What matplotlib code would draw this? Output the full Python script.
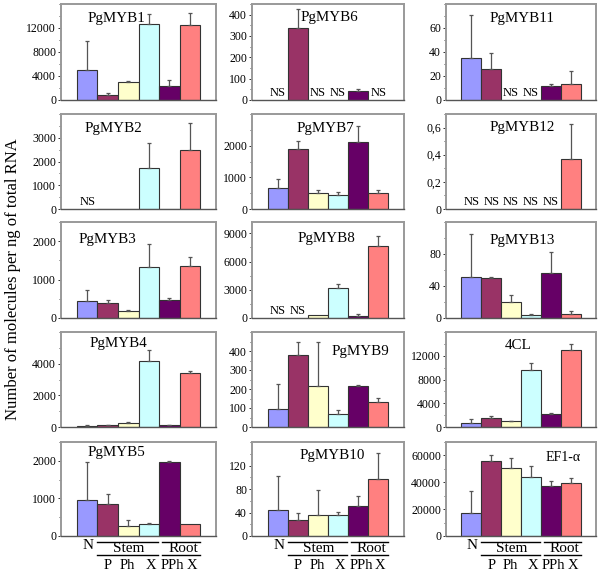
import numpy as np
import matplotlib
matplotlib.use("Agg")
import matplotlib.pyplot as plt
from matplotlib.transforms import blended_transform_factory
from matplotlib.ticker import MultipleLocator, FixedLocator, FuncFormatter

plt.rcParams['font.family'] = ['Liberation Serif', 'DejaVu Serif']

groups = ["N", "P", "Ph", "X", "PPh", "X"]
colors = ["#9999FF", "#993366", "#FFFFCC", "#CCFFFF", "#660066", "#FF8080"]

# None = NS (not significant / not detected)
titles = ["PgMYB1", "PgMYB6", "PgMYB11",
          "PgMYB2", "PgMYB7", "PgMYB12",
          "PgMYB3", "PgMYB8", "PgMYB13",
          "PgMYB4", "PgMYB9", "4CL",
          "PgMYB5", "PgMYB10", "EF1-α"]

means = {
    "PgMYB1": [5000, 850, 3050, 12650, 2350, 12550],
    "PgMYB6": [None, 337, None, None, 40, None],
    "PgMYB11": [35, 26, None, None, 12, 13],
    "PgMYB2": [None, 15, 10, 1710, 20, 2480],
    "PgMYB7": [650, 1890, 490, 455, 2120, 520],
    "PgMYB12": [None, None, None, None, None, 0.37],
    "PgMYB3": [430, 380, 185, 1330, 460, 1350],
    "PgMYB8": [None, None, 280, 3240, 250, 7690],
    "PgMYB13": [51, 50, 20, 3.4, 56, 5.5],
    "PgMYB4": [40, 100, 250, 4200, 120, 3380],
    "PgMYB9": [93, 377, 214, 69, 216, 129],
    "4CL": [680, 1530, 960, 9680, 2260, 12900],
    "PgMYB5": [965, 850, 272, 316, 1975, 316],
    "PgMYB10": [45, 28, 35, 35, 51, 97],
    "EF1-α": [17500, 55500, 50750, 44250, 37000, 39500],
}
err_tops = {
    "PgMYB1": [9900, 1250, 3250, 14300, 3330, 14450],
    "PgMYB6": [None, 427, None, None, 50, None],
    "PgMYB11": [71, 39, None, None, 13, 24],
    "PgMYB2": [None, None, None, 2800, None, 3610],
    "PgMYB7": [960, 2150, 615, 530, 2615, 595],
    "PgMYB12": [None, None, None, None, None, 0.63],
    "PgMYB3": [725, 475, 210, 1930, 530, 1590],
    "PgMYB8": [None, None, None, 3560, 390, 8750],
    "PgMYB13": [105, 51, 28.6, 4.6, 82.5, 8.4],
    "PgMYB4": [100, 110, 310, 4840, 130, 3560],
    "PgMYB9": [225, 448, 450, 88, 221, 152],
    "4CL": [1420, 1920, 1075, 10750, 2430, 13920],
    "PgMYB5": [1975, 1105, 420, 350, 2000, None],
    "PgMYB10": [102, 39, 78, 41, 68, 141],
    "EF1-α": [33750, 60000, 58250, 52000, 41250, 43250],
}
ylims = {"PgMYB1": 16000, "PgMYB6": 450, "PgMYB11": 80, "PgMYB2": 4000, "PgMYB7": 3000,
         "PgMYB12": 0.7, "PgMYB3": 2500, "PgMYB8": 10200, "PgMYB13": 120, "PgMYB4": 6000,
         "PgMYB9": 500, "4CL": 16000, "PgMYB5": 2500, "PgMYB10": 160, "EF1-α": 70000}
majors = {"PgMYB1": [0, 4000, 8000, 12000], "PgMYB6": [0, 100, 200, 300, 400],
          "PgMYB11": [0, 20, 40, 60], "PgMYB2": [0, 1000, 2000, 3000],
          "PgMYB7": [0, 1000, 2000], "PgMYB12": [0, 0.2, 0.4, 0.6],
          "PgMYB3": [0, 1000, 2000], "PgMYB8": [0, 3000, 6000, 9000],
          "PgMYB13": [0, 40, 80], "PgMYB4": [0, 2000, 4000],
          "PgMYB9": [0, 100, 200, 300, 400], "4CL": [0, 4000, 8000, 12000],
          "PgMYB5": [0, 1000, 2000], "PgMYB10": [0, 40, 80, 120],
          "EF1-α": [0, 20000, 40000, 60000]}
minors = {"PgMYB1": 2000, "PgMYB6": 50, "PgMYB11": 10, "PgMYB2": 500, "PgMYB7": 500,
          "PgMYB12": 0.1, "PgMYB3": 500, "PgMYB8": 1500, "PgMYB13": 20, "PgMYB4": 1000,
          "PgMYB9": 50, "4CL": 2000, "PgMYB5": 500, "PgMYB10": 20, "EF1-α": 10000}
title_pos = {"PgMYB1": (0.36, 0.85), "PgMYB6": (0.51, 0.86), "PgMYB11": (0.51, 0.85),
             "PgMYB2": (0.34, 0.85), "PgMYB7": (0.48, 0.85), "PgMYB12": (0.51, 0.86),
             "PgMYB3": (0.30, 0.82), "PgMYB8": (0.49, 0.83), "PgMYB13": (0.51, 0.81),
             "PgMYB4": (0.37, 0.88), "PgMYB9": (0.71, 0.79), "4CL": (0.48, 0.86),
             "PgMYB5": (0.36, 0.89), "PgMYB10": (0.53, 0.86), "EF1-α": (0.78, 0.84)}

W, H = 600, 575
fig = plt.figure(figsize=(6.0, 5.75), dpi=100)
col_lr = [(61, 216), (252, 404), (446, 596)]
row_tb = [(4, 100), (114, 209), (222, 318), (332, 427), (442, 536)]

x = np.arange(6)
for i, name in enumerate(titles):
    r, c = divmod(i, 3)
    l, rr = col_lr[c]
    t, b = row_tb[r]
    ax = fig.add_axes([l / W, 1 - b / H, (rr - l) / W, (b - t) / H])
    vals = means[name]
    errs = err_tops[name]
    for j in range(6):
        v = vals[j]
        if v is None:
            ax.text(x[j], ylims[name] * 0.015, "NS", ha="center", va="bottom",
                    fontsize=9)
            continue
        ax.bar(x[j], v, width=1.0, color=colors[j], edgecolor="#333333",
               linewidth=0.8, zorder=2)
        e = errs[j]
        if e is not None and e > v:
            ax.errorbar(x[j], v, yerr=[[0], [e - v]], fmt="none",
                        ecolor="#555555", elinewidth=0.9, capsize=1.5,
                        capthick=0.9, zorder=3)
    ax.set_xlim(-1.28, 6.28)
    ax.set_ylim(0, ylims[name])
    ax.set_xticks([])
    ax.yaxis.set_major_locator(FixedLocator(majors[name]))
    ax.yaxis.set_minor_locator(MultipleLocator(minors[name]))
    if name == "PgMYB12":
        ax.yaxis.set_major_formatter(FuncFormatter(
            lambda v, p: "0" if v == 0 else ("%g" % v).replace(".", ",")))
    else:
        ax.yaxis.set_major_formatter(FuncFormatter(lambda v, p: "%d" % v))
    ax.tick_params(axis="y", which="major", length=2.5, width=0.7, pad=1,
                   labelsize=8.5, color="#333333")
    ax.tick_params(axis="y", which="minor", length=1.5, width=0.6, color="#333333")
    for s in ["top", "right", "left"]:
        ax.spines[s].set_color("#999999")
        ax.spines[s].set_linewidth(1.4)
    ax.spines["bottom"].set_color("#555555")
    ax.spines["bottom"].set_linewidth(1.0)
    tx, ty = title_pos[name]
    ax.text(tx, ty, name, transform=ax.transAxes, ha="center", va="center",
            fontsize=10.8 if name != "EF1-α" else 10)

    if r == 4:
        tr = blended_transform_factory(ax.transData, ax.transAxes)
        ax.text(0.04, -0.10, "N", transform=tr, ha="center", va="center", fontsize=11)
        for (x0, x1, lab, xc) in [(0.5, 3.45, "Stem", 2.04), (3.65, 5.5, "Root", 4.67)]:
            ax.plot([x0, x1], [-0.065, -0.065], transform=tr, color="black",
                    lw=1.0, clip_on=False)
            ax.plot([x0, x1], [-0.205, -0.205], transform=tr, color="black",
                    lw=1.0, clip_on=False)
            ax.text(xc, -0.135, lab, transform=tr, ha="center", va="center",
                    fontsize=11)
        for (xp, lab) in [(1.0, "P"), (1.95, "Ph"), (3.1, "X"), (4.15, "PPh"), (5.1, "X")]:
            ax.text(xp, -0.31, lab, transform=tr, ha="center", va="center",
                    fontsize=10.5)

fig.text(0.022, 0.515, "Number of molecules per ng of total RNA", rotation=90,
         ha="center", va="center", fontsize=12)

fig.savefig("out.png", dpi=100, facecolor="white")
